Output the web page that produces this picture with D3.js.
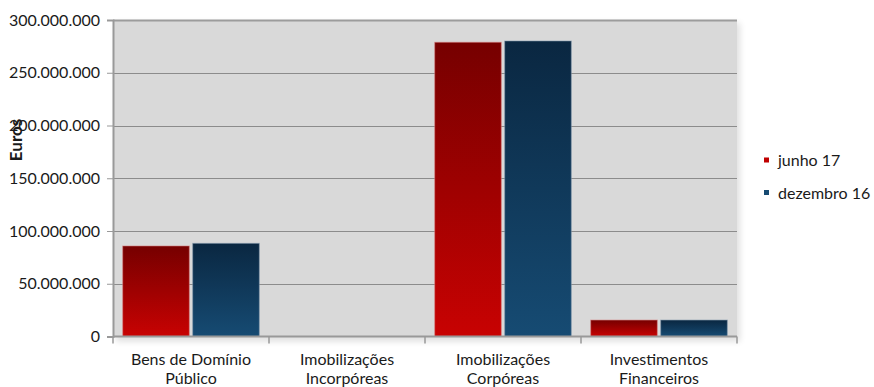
<!DOCTYPE html>
<html>
<head>
<meta charset="utf-8">
<script src="https://cdn.jsdelivr.net/npm/d3@7"></script>
<style>
  html, body { margin: 0; padding: 0; background: #fff; }
  svg { display: block; }
  text { font-family: Lato, "Open Sans", sans-serif; fill: #1a1a1a; }
</style>
</head>
<body>
<svg id="chart" width="874" height="387"></svg>
<script>
// Imobilizado por tipo de bem (euros)
const categories = [
  ["Bens de Domínio", "Público"],
  ["Imobilizações", "Incorpóreas"],
  ["Imobilizações", "Corpóreas"],
  ["Investimentos", "Financeiros"]
];
const seriesNames = ["junho 17", "dezembro 16"];
const junho17 = [85800000, 0, 278900000, 15600000];
const dezembro16 = [88300000, 0, 280100000, 15600000];
const yTicks = [0, 50000000, 100000000, 150000000, 200000000, 250000000, 300000000];

const svg = d3.select("#chart");
const W = 874, H = 387;
const m = { left: 113, top: 20, right: 137, bottom: 50.5 };
const pw = W - m.left - m.right, ph = H - m.top - m.bottom;

const ptLocale = d3.formatLocale({ decimal: ",", thousands: ".", grouping: [3], currency: ["", " €"] });
const fmt = ptLocale.format(",.0f");

const x = d3.scaleBand().domain(d3.range(categories.length)).range([m.left, m.left + pw]).padding(0);
const xs = d3.scaleBand().domain(d3.range(seriesNames.length)).range([0, x.bandwidth()])
  .paddingInner(0.0486).paddingOuter(0.1386);
const y = d3.scaleLinear().domain([0, 300000000]).range([m.top + ph, m.top]);

const defs = svg.append("defs");
const grads = [
  { id: "gRed", top: "#760000", bottom: "#c80202" },
  { id: "gBlue", top: "#0a2741", bottom: "#164b73" }
];
grads.forEach(g => {
  const lg = defs.append("linearGradient").attr("id", g.id).attr("x1", 0).attr("y1", 0).attr("x2", 0).attr("y2", 1);
  lg.append("stop").attr("offset", "0%").attr("stop-color", g.top);
  lg.append("stop").attr("offset", "100%").attr("stop-color", g.bottom);
});
const sh = defs.append("filter").attr("id", "shadow").attr("x", "-5%").attr("y", "-5%").attr("width", "115%").attr("height", "125%");
sh.append("feGaussianBlur").attr("stdDeviation", 3);

// plot area with soft drop shadow
svg.append("rect").attr("x", m.left + 3).attr("y", m.top + 3).attr("width", pw).attr("height", ph + 2)
  .attr("fill", "#000").attr("opacity", 0.12).attr("filter", "url(#shadow)");
svg.append("rect").attr("x", m.left).attr("y", m.top).attr("width", pw).attr("height", ph).attr("fill", "#d9d9d9");

// gridlines
svg.append("g").selectAll("line").data(yTicks.slice(1)).join("line")
  .attr("x1", m.left).attr("x2", m.left + pw)
  .attr("y1", d => Math.round(y(d)) + 0.5).attr("y2", d => Math.round(y(d)) + 0.5)
  .attr("stroke", d => d === 300000000 ? "#9c9c9c" : "#8c8c8c")
  .attr("stroke-width", d => d === 300000000 ? 2 : 1);

// bars
const series = [junho17, dezembro16];
const fills = ["url(#gRed)", "url(#gBlue)"];
const edges = ["#d88080", "#7f97ab"];
series.forEach((vals, si) => {
  svg.append("g").selectAll("rect").data(vals.map((v, i) => ({ v, i }))).join("rect")
    .filter(d => d.v > 0)
    .attr("x", d => x(d.i) + xs(si))
    .attr("y", d => y(d.v))
    .attr("width", xs.bandwidth())
    .attr("height", d => y(0) - y(d.v))
    .attr("fill", fills[si])
    .attr("stroke", edges[si]).attr("stroke-opacity", 0.55).attr("stroke-width", 1);
});

// y axis
const yAxis = d3.axisLeft(y).tickValues(yTicks).tickFormat(fmt).tickSize(6).tickPadding(7);
const gy = svg.append("g").attr("transform", `translate(${m.left},0)`).call(yAxis);
gy.select(".domain").attr("stroke", "#999").attr("stroke-width", 2);
gy.selectAll(".tick line").attr("stroke", "#999");
gy.selectAll(".tick text").style("font-size", "16px").style("font-family", "Lato, sans-serif").attr("fill", "#1a1a1a");

// x axis: ticks on category boundaries
const bounds = d3.range(categories.length + 1).map(i => m.left + i * x.bandwidth());
svg.append("line").attr("x1", m.left).attr("x2", m.left + pw).attr("y1", y(0)).attr("y2", y(0))
  .attr("stroke", "#999").attr("stroke-width", 2);
svg.append("g").selectAll("line").data(bounds).join("line")
  .attr("x1", d => d).attr("x2", d => d).attr("y1", y(0)).attr("y2", y(0) + 7)
  .attr("stroke", "#999").attr("stroke-width", 1.5);

const xl = svg.append("g").selectAll("text").data(categories).join("text")
  .attr("text-anchor", "middle")
  .attr("x", (d, i) => x(i) + x.bandwidth() / 2)
  .attr("y", 365)
  .style("font-size", "16px");
xl.each(function(d) {
  const t = d3.select(this);
  d.forEach((line, k) => {
    t.append("tspan").attr("x", t.attr("x")).attr("dy", k === 0 ? 0 : 19).text(line);
  });
});

// y axis title
svg.append("text").attr("transform", "translate(22,140) rotate(-90)")
  .attr("text-anchor", "middle").style("font-size", "17px").style("font-weight", "bold")
  .text("Euros");

// legend
const legendColors = ["#c00000", "#174b72"];
const lg = svg.append("g");
seriesNames.forEach((name, i) => {
  const cy = 160 + i * 32.5;
  lg.append("rect").attr("x", 764).attr("y", cy - 2.5).attr("width", 5).attr("height", 5).attr("fill", legendColors[i]);
  lg.append("text").attr("x", 778).attr("y", cy + 6).style("font-size", "16px").text(name);
});
</script>
</body>
</html>
